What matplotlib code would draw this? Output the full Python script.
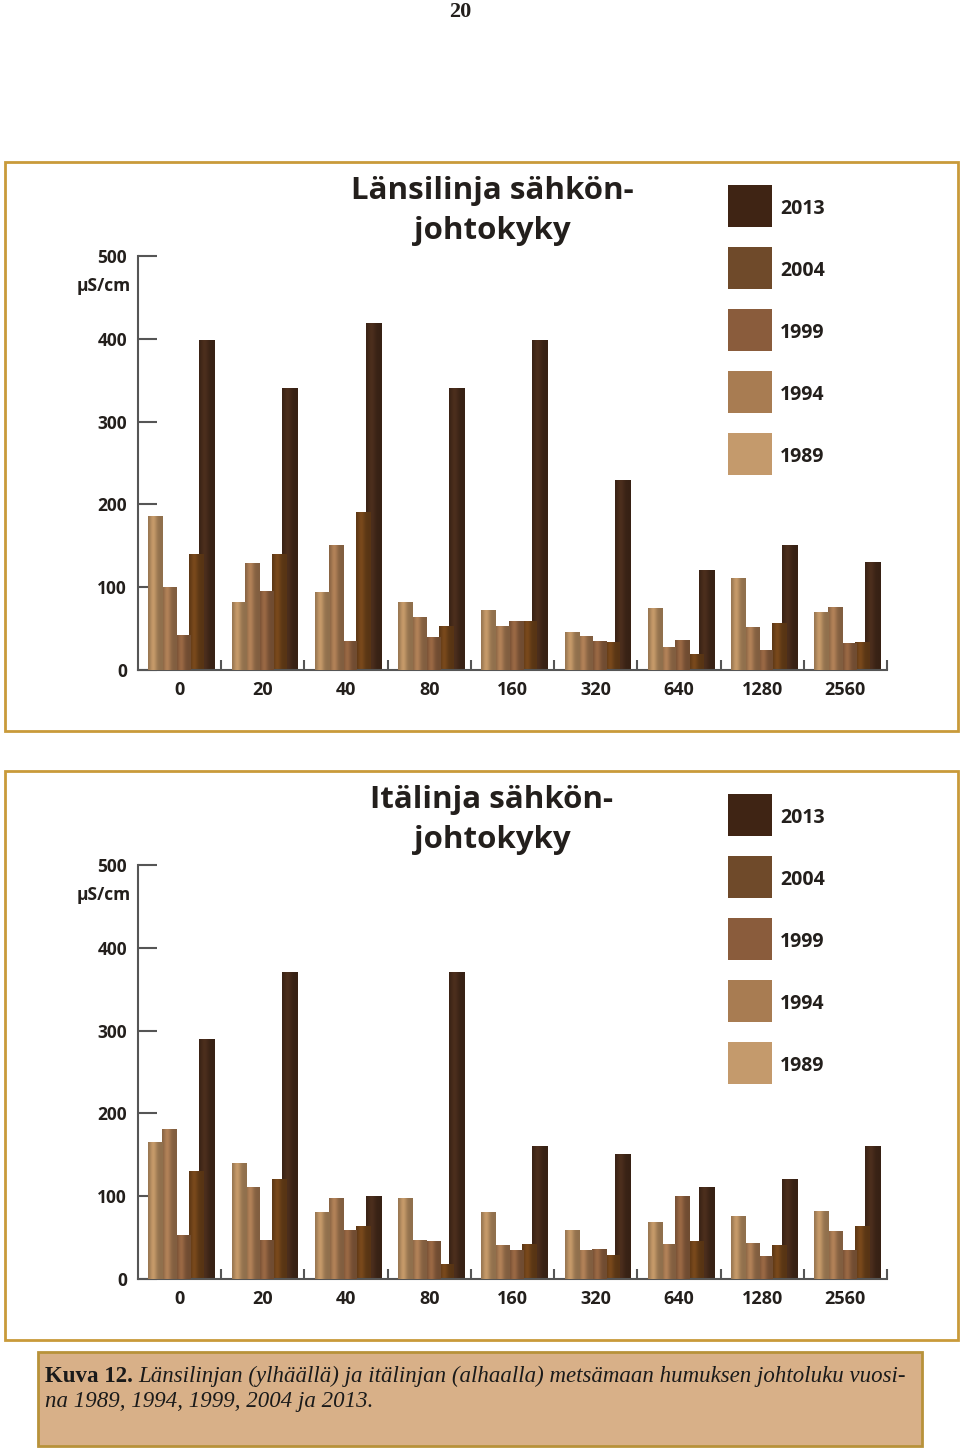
import numpy as np
import matplotlib
matplotlib.use('Agg')
import matplotlib.pyplot as plt
from matplotlib.patches import Rectangle
from matplotlib.colors import to_rgb

W, H = 960, 1451

# Categories and years
groups = ['0', '20', '40', '80', '160', '320', '640', '1280', '2560']
years = ['1989', '1994', '1999', '2004', '2013']

# Länsilinja (top chart), µS/cm
west_1989 = [185, 82, 94, 82, 72, 45, 74, 110, 70]
west_1994 = [100, 129, 150, 64, 52, 41, 27, 51, 76]
west_1999 = [42, 95, 35, 39, 58, 34, 36, 23, 32]
west_2004 = [140, 140, 190, 52, 58, 33, 19, 56, 33]
west_2013 = [398, 340, 419, 340, 398, 229, 120, 150, 130]

# Itälinja (bottom chart), µS/cm
east_1989 = [165, 140, 80, 97, 80, 59, 68, 76, 82]
east_1994 = [180, 110, 97, 46, 40, 34, 42, 43, 57]
east_1999 = [52, 46, 58, 45, 34, 36, 100, 27, 35]
east_2004 = [130, 120, 63, 18, 42, 28, 45, 41, 64]
east_2013 = [289, 370, 100, 370, 160, 150, 110, 120, 160]

bar_colors = ['#b48c60', '#a27650', '#8c5f3e', '#6e4219', '#452a1a']
legend_colors = ['#c49a6c', '#a87c52', '#8a5c3c', '#6f4a2a', '#3f2414']
frame_color = '#c99a3a'
axis_color = '#555555'
text_color = '#231f1c'

sans = ['Open Sans', 'DejaVu Sans']
serif = ['Liberation Serif', 'DejaVu Serif']


def fx(px):
    return px / W


def fy(py):
    return 1 - py / H


# cylinder-like shading across a bar
t = np.linspace(0, 1, 40)
shade = 0.8 + 0.3 * np.exp(-((t - 0.35) / 0.25) ** 2)


def shaded_bar(ax, x, w, h, color, z):
    rgb = np.array(to_rgb(color))
    img = np.clip(shade[:, None] * rgb[None, :], 0, 1)[None, :, :]
    ax.imshow(img, extent=(x - w / 2, x + w / 2, 0, h), aspect='auto',
              interpolation='bilinear', zorder=z)


def draw_panel(fig, zero_px, top_px, frame_y0, frame_y1, series, title, dy):
    # frame round the panel
    fig.add_artist(Rectangle((fx(5), fy(frame_y1)), fx(953), (frame_y1 - frame_y0) / H,
                             transform=fig.transFigure, fill=False,
                             edgecolor=frame_color, lw=2))

    ax = fig.add_axes([fx(138), fy(zero_px), fx(887 - 138), (zero_px - top_px) / H])
    ax.patch.set_alpha(0)

    offsets = [-0.29, -0.125, 0.04, 0.2, 0.33]
    widths = [0.17, 0.17, 0.17, 0.17, 0.19]
    zs = [5, 4, 3, 2, 1]
    for k, vals in enumerate(series):
        for i, v in enumerate(vals):
            shaded_bar(ax, i + offsets[k], widths[k], v, bar_colors[k], zs[k])

    ax.set_xlim(-0.5, 8.5)
    ax.set_ylim(0, 500)
    for s in ['top', 'right']:
        ax.spines[s].set_visible(False)
    for s in ['left', 'bottom']:
        ax.spines[s].set_color(axis_color)
        ax.spines[s].set_linewidth(1.5)

    ax.set_yticks([0, 100, 200, 300, 400, 500])
    ax.set_yticklabels(['0', '100', '200', '300', '400', '500'],
                       family=sans, weight='bold', fontsize=12.5, color=text_color)
    ax.tick_params(axis='y', direction='in', length=14, width=1.5,
                   color=axis_color, pad=8)

    ax.set_xticks(range(len(groups)))
    ax.set_xticklabels(groups, family=sans, weight='bold', fontsize=13,
                       color=text_color)
    ax.tick_params(axis='x', which='major', length=0, pad=8)
    ax.set_xticks(np.arange(0.5, len(groups), 1), minor=True)
    ax.tick_params(axis='x', which='minor', direction='in', length=7,
                   width=1.5, color=axis_color)

    fig.text(fx(131), fy(286 + dy), 'µS/cm', ha='right', va='center',
             family=sans, weight='bold', fontsize=12.5, color=text_color)

    fig.text(fx(492), fy(211 + dy), title, ha='center', va='center',
             multialignment='center', family=sans, weight='bold',
             fontsize=22.5, linespacing=1.42, color=text_color)

    # legend, newest year on top
    for j in range(5):
        k = 4 - j
        cy = 206 + 62 * j + dy
        fig.add_artist(Rectangle((fx(728), fy(cy + 21)), fx(44), 42 / H,
                                 transform=fig.transFigure,
                                 facecolor=legend_colors[k], edgecolor='none'))
        fig.text(fx(780), fy(cy + 3), years[k], ha='left', va='center',
                 family=sans, weight='bold', fontsize=14, color=text_color)
    return ax


fig = plt.figure(figsize=(W / 100, H / 100), dpi=100)

fig.text(fx(460), fy(2), '20', ha='center', va='top', family=serif,
         weight='bold', fontsize=16, color=text_color)

draw_panel(fig, 670, 256, 162, 731,
           [west_1989, west_1994, west_1999, west_2004, west_2013],
           'Länsilinja sähkön-\njohtokyky', 0)
draw_panel(fig, 1279, 865, 771, 1340,
           [east_1989, east_1994, east_1999, east_2004, east_2013],
           'Itälinja sähkön-\njohtokyky', 609)

# caption box
fig.add_artist(Rectangle((fx(38), fy(1446)), fx(884), 94 / H,
                         transform=fig.transFigure, facecolor='#d8b088',
                         edgecolor='#b8923a', lw=2))
bold = fig.text(fx(45), fy(1376), 'Kuva 12.', ha='left', va='center',
                family=serif, weight='bold', fontsize=16.5, color='#1a1a1a')
fig.canvas.draw()
bb = bold.get_window_extent()
fig.text(bb.x1 / W + fx(5), fy(1376),
         'Länsilinjan (ylhäällä) ja itälinjan (alhaalla) metsämaan humuksen johtoluku vuosi-',
         ha='left', va='center', family=serif, style='italic', fontsize=16.5,
         color='#1a1a1a')
fig.text(fx(45), fy(1401), 'na 1989, 1994, 1999, 2004 ja 2013.', ha='left',
         va='center', family=serif, style='italic', fontsize=16.5, color='#1a1a1a')

fig.savefig('out.png', dpi=100)
